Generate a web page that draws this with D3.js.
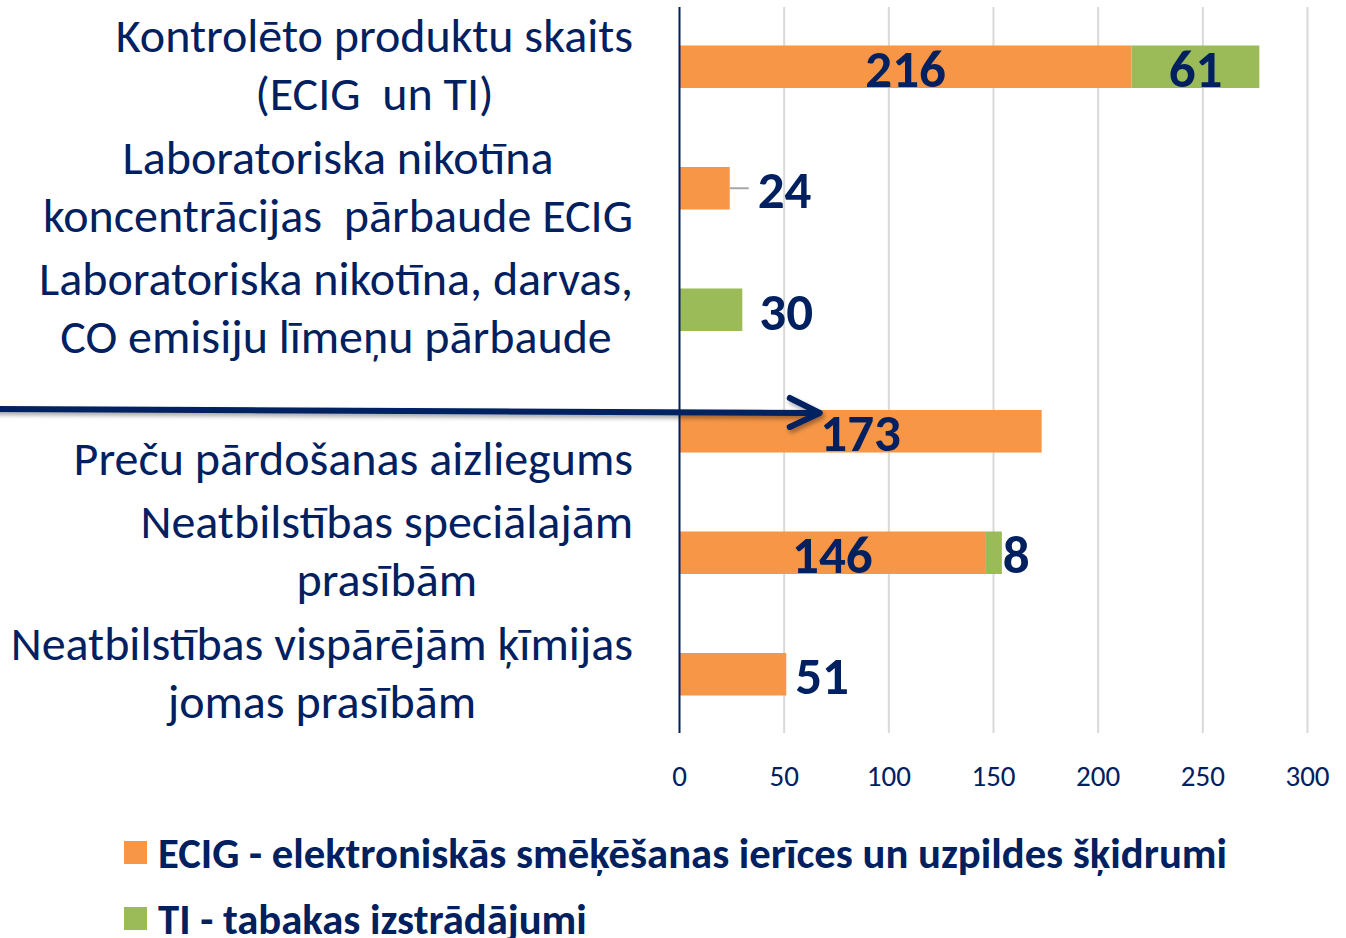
<!DOCTYPE html>
<html>
<head>
<meta charset="utf-8">
<script src="https://cdn.jsdelivr.net/npm/d3@7"></script>
<style>
  html, body { margin: 0; padding: 0; background: #fff; }
  svg { display: block; }
  text { font-family: Carlito, Calibri, Lato, "Open Sans", sans-serif; white-space: pre; }
</style>
</head>
<body>
<svg id="chart" width="1346" height="938"></svg>
<script>
// chart data
var categories = [
  ["Kontrolēto produktu skaits", "(ECIG  un TI)"],
  ["Laboratoriska nikotīna", "koncentrācijas  pārbaude ECIG"],
  ["Laboratoriska nikotīna, darvas,", "CO emisiju līmeņu pārbaude"],
  ["", "Preču pārdošanas aizliegums"],
  ["Neatbilstības speciālajām", "prasībām"],
  ["Neatbilstības vispārējām ķīmijas", "jomas prasībām"]
];
var ecig = [216, 24, 0, 173, 146, 51];
var ti = [61, 0, 30, 0, 8, 0];
var xTicks = [0, 50, 100, 150, 200, 250, 300];
var seriesNames = [
  "ECIG - elektroniskās smēķēšanas ierīces un uzpildes šķidrumi",
  "TI - tabakas izstrādājumi"
];

var navy = "#002060",
    colors = ["#f79646", "#9bbb59"];

var svg = d3.select("#chart");

var x = d3.scaleLinear().domain([0, 300]).range([679.5, 1307.5]);
var y = d3.scaleBand()
    .domain(d3.range(categories.length))
    .range([6, 735])
    .paddingInner(0.65)
    .paddingOuter(0.325);

var rows = categories.map(function(c, i) {
  return { i: i, lines: c, segs: [
    { s: 0, v: ecig[i], x0: 0, x1: ecig[i] },
    { s: 1, v: ti[i], x0: ecig[i], x1: ecig[i] + ti[i] }
  ]};
});

// gridlines
svg.append("g")
  .selectAll("line")
  .data(xTicks.slice(1))
  .enter().append("line")
    .attr("x1", function(d) { return x(d); })
    .attr("x2", function(d) { return x(d); })
    .attr("y1", 7)
    .attr("y2", 733)
    .attr("stroke", "#d9d9d9")
    .attr("stroke-width", 2);

// tick labels
svg.append("g")
  .selectAll("text")
  .data(xTicks)
  .enter().append("text")
    .attr("x", function(d) { return x(d); })
    .attr("y", 776)
    .attr("text-anchor", "middle")
    .attr("dominant-baseline", "central")
    .attr("fill", navy)
    .style("font-size", "29px")
    .text(function(d) { return d; });

// bars
var row = svg.append("g").selectAll("g")
  .data(rows)
  .enter().append("g");

row.selectAll("rect")
  .data(function(d) { return d.segs.filter(function(s) { return s.v > 0; }); })
  .enter().append("rect")
    .attr("x", function(s) { return x(s.x0); })
    .attr("width", function(s) { return x(s.x1) - x(s.x0); })
    .attr("y", function(s) { return y(this.parentNode.__data__.i); })
    .attr("height", y.bandwidth())
    .attr("fill", function(s) { return colors[s.s]; });

// axis line
svg.append("line")
  .attr("x1", x(0)).attr("x2", x(0))
  .attr("y1", 7).attr("y2", 733)
  .attr("stroke", navy)
  .attr("stroke-width", 2);

// value labels
var outsideGap = { 1: 28, 2: 17, 4: 1, 5: 9 };
rows.forEach(function(r) {
  var cy = y(r.i) + y.bandwidth() / 2 + 2;
  var total = ecig[r.i] + ti[r.i];
  r.segs.forEach(function(s) {
    if (s.v <= 0) return;
    var w = x(s.x1) - x(s.x0);
    var t = svg.append("text")
      .attr("y", cy)
      .attr("dominant-baseline", "central")
      .attr("fill", navy)
      .style("font-size", "53px")
      .style("font-weight", "bold")
      .text(s.v);
    if (w > 115) {
      t.attr("x", (x(s.x0) + x(s.x1)) / 2).attr("text-anchor", "middle");
    } else {
      var gap = outsideGap[r.i] || 10;
      t.attr("x", x(total) + gap).attr("text-anchor", "start");
      if (gap > 20) {
        svg.append("line")
          .attr("x1", x(total)).attr("x2", x(total) + gap - 9)
          .attr("y1", cy - 2).attr("y2", cy - 2)
          .attr("stroke", "#a6a6a6")
          .attr("stroke-width", 2);
      }
    }
  });
});

// category labels: block right-aligned, lines centred within block
var labelRight = 633, lineStep = 58;
rows.forEach(function(r) {
  var cy = y(r.i) + y.bandwidth() / 2 - 2;
  var g = svg.append("g");
  var texts = r.lines.map(function(line, k) {
    return g.append("text")
      .attr("y", cy + (k - (r.lines.length - 1) / 2) * lineStep)
      .attr("dominant-baseline", "central")
      .attr("text-anchor", "middle")
      .attr("fill", navy)
      .style("font-size", "48px")
      .text(line);
  });
  var widths = texts.map(function(t) { return t.node().getComputedTextLength(); });
  var blockW = d3.max(widths);
  texts.forEach(function(t) { t.attr("x", labelRight - blockW / 2); });
});

// arrow annotation pointing at the 173 bar
var defs = svg.append("defs");
var f = defs.append("filter").attr("id", "shadow").attr("x", "-5%").attr("y", "-50%").attr("width", "110%").attr("height", "200%");
f.append("feDropShadow").attr("dx", 2).attr("dy", 3).attr("stdDeviation", 2).attr("flood-color", "#000").attr("flood-opacity", 0.35);

var tipX = x(67), tipY = y(3) + 3;
var arrow = svg.append("g").attr("filter", "url(#shadow)")
  .attr("stroke", navy)
  .attr("stroke-width", 6)
  .attr("fill", "none")
  .attr("stroke-linecap", "round")
  .attr("stroke-linejoin", "round");
arrow.append("line")
  .attr("x1", -5).attr("y1", tipY - 4)
  .attr("x2", tipX - 3).attr("y2", tipY);
arrow.append("path")
  .attr("d", d3.line()([[tipX - 30, tipY - 15], [tipX, tipY], [tipX - 30, tipY + 14]]));

// legend
var legend = svg.append("g").selectAll("g")
  .data(seriesNames)
  .enter().append("g")
    .attr("transform", function(d, i) { return "translate(124," + (841 + i * 66) + ")"; });
legend.append("rect")
  .attr("width", 23).attr("height", 23)
  .attr("fill", function(d, i) { return colors[i]; });
legend.append("text")
  .attr("x", 34).attr("y", 12)
  .attr("dominant-baseline", "central")
  .attr("fill", navy)
  .style("font-size", "42.7px")
  .style("font-weight", "bold")
  .text(function(d) { return d; });
</script>
</body>
</html>
